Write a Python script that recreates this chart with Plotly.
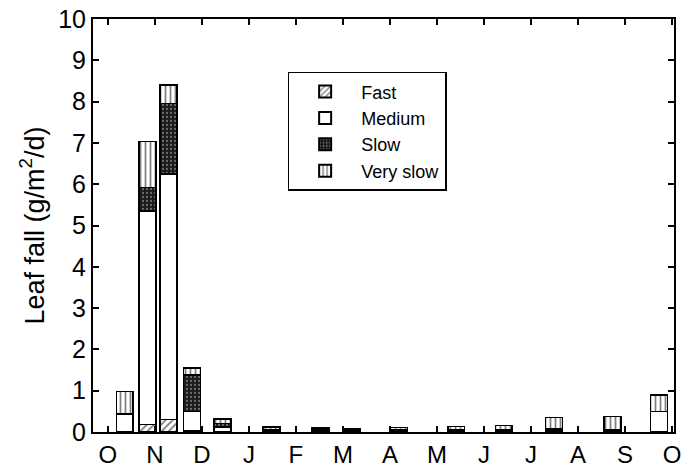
import plotly.graph_objects as go

# sampling positions in months after 1 October
sample_pos = [0.36, 0.84, 1.29, 1.79, 2.44, 3.48, 4.52, 5.18, 6.19, 7.41, 8.42, 9.49, 10.73, 11.72]
fast = [0.0, 0.18, 0.30, 0.03, 0.0, 0.0, 0.0, 0.0, 0.0, 0.0, 0.0, 0.0, 0.0, 0.0]
medium = [0.43, 5.17, 5.95, 0.47, 0.12, 0.03, 0.03, 0.02, 0.03, 0.03, 0.04, 0.05, 0.05, 0.50]
slow = [0.0, 0.57, 1.70, 0.88, 0.08, 0.02, 0.02, 0.03, 0.02, 0.02, 0.02, 0.02, 0.0, 0.0]
very_slow = [0.55, 1.12, 0.45, 0.17, 0.12, 0.07, 0.05, 0.02, 0.06, 0.08, 0.10, 0.28, 0.33, 0.40]

month_ticks = list(range(13))
month_labels = ["O", "N", "D", "J", "F", "M", "A", "M", "J", "J", "A", "S", "O"]
y_ticks = list(range(11))

FONT = "Liberation Sans, Arial, sans-serif"
line = dict(color="black", width=1.5)
bw = 0.36

fig = go.Figure()
fig.add_trace(go.Bar(
    x=sample_pos, y=fast, name="Fast", width=bw,
    marker=dict(color="white", line=line,
                pattern=dict(shape="/", fgcolor="black", bgcolor="white", size=5, solidity=0.35)),
))
fig.add_trace(go.Bar(
    x=sample_pos, y=medium, name="Medium", width=bw,
    marker=dict(color="white", line=line),
))
fig.add_trace(go.Bar(
    x=sample_pos, y=slow, name="Slow", width=bw,
    marker=dict(color="#1a1a1a", line=line,
                pattern=dict(shape=".", fgcolor="#bbbbbb", bgcolor="#1a1a1a", size=4, solidity=0.25)),
))
fig.add_trace(go.Bar(
    x=sample_pos, y=very_slow, name="Very slow", width=bw,
    marker=dict(color="white", line=line,
                pattern=dict(shape="|", fgcolor="black", bgcolor="white", size=5, solidity=0.35)),
))

fig.update_layout(
    barmode="stack",
    width=686, height=473,
    margin=dict(l=93, r=5, t=17, b=37),
    paper_bgcolor="white", plot_bgcolor="white",
    font=dict(family=FONT, color="black", size=20),
    showlegend=True,
    legend=dict(
        x=0.335, y=0.872, xanchor="left", yanchor="top",
        bordercolor="black", borderwidth=1.5, bgcolor="white",
        font=dict(family=FONT, size=18, color="black"),
        tracegroupgap=0, traceorder="normal",
        itemsizing="constant", itemwidth=62,
    ),
    xaxis=dict(
        range=[-0.315, 12.04],
        tickmode="array", tickvals=month_ticks, ticktext=month_labels,
        ticks="inside", ticklen=6, tickwidth=1.5, tickcolor="black",
        showline=True, linecolor="black", linewidth=2, mirror="ticks",
        showgrid=False, zeroline=False,
        ticklabeloverflow="allow",
        tickfont=dict(family=FONT, size=24, color="black"),
    ),
    yaxis=dict(
        range=[0, 10],
        tickmode="array", tickvals=y_ticks,
        ticks="inside", ticklen=6, tickwidth=1.5, tickcolor="black",
        showline=True, linecolor="black", linewidth=2, mirror="ticks",
        showgrid=False, zeroline=False,
        tickfont=dict(family=FONT, size=25, color="black"),
        title=dict(text="Leaf fall (g/m<sup>2</sup>/d)", font=dict(family=FONT, size=27, color="black"), standoff=6),
    ),
)

fig.write_html("out.html")
